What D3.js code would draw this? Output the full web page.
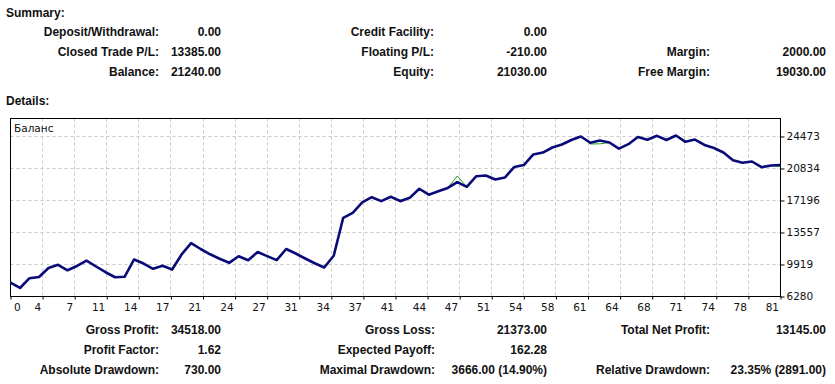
<!DOCTYPE html>
<html>
<head>
<meta charset="utf-8">
<script src="https://cdn.jsdelivr.net/npm/d3@7"></script>
<style>
  body { margin: 0; background: #fff; }
  svg text { font-family: "Liberation Sans", Arial, sans-serif; fill: #111; }
  .lbl { font-size: 12px; font-weight: bold; }
  .axis-text { font-family: "DejaVu Sans", sans-serif; font-size: 10.5px; }
</style>
</head>
<body>
<div id="chart"></div>
<script>
'use strict';

// DATA
var tradeLabels = [0, 4, 7, 11, 14, 17, 21, 24, 27, 31, 34, 37, 41, 44, 47, 51, 54, 58, 61, 64, 68, 71, 74, 78, 81];
var balanceTicks = [6280, 9919, 13557, 17196, 20834, 24473];

var balance = [7860, 7250, 8360, 8500, 9520, 9880, 9260, 9750, 10350, 9690,
    9040, 8470, 8520, 10490, 10030, 9430, 9770, 9350, 11060, 12340,
    11680, 11080, 10570, 10110, 10860, 10410, 11340, 10870, 10410, 11680,
    11170, 10600, 10060, 9580, 10910, 15230, 15800, 16970, 17570, 17120,
    17620, 17120, 17500, 18530, 17860, 18250, 18620, 19280, 18750, 19960,
    20040, 19580, 19810, 21010, 21230, 22430, 22650, 23220, 23560, 24080,
    24470, 23760, 24020, 23790, 23090, 23600, 24420, 24100, 24550, 24080,
    24590, 23870, 24130, 23510, 23170, 22650, 21780, 21480, 21630, 20980,
    21180, 21240];

var equity = [7860, 7250, 8360, 8500, 9520, 9880, 9260, 9750, 10350, 9690,
    9040, 8470, 8440, 10490, 10030, 9380, 9770, 9350, 11060, 12340,
    11680, 11080, 10570, 10110, 10860, 10410, 11340, 10870, 10410, 11680,
    11170, 10600, 10060, 9580, 10910, 15230, 15800, 16970, 17570, 17120,
    17620, 17250, 17500, 18530, 17860, 18250, 18620, 19980, 18750, 19960,
    20040, 19580, 19810, 21010, 21230, 22430, 22650, 23220, 23560, 24080,
    24470, 23620, 23640, 23790, 23090, 23600, 24420, 24100, 24550, 24080,
    24590, 23870, 24130, 23510, 23170, 22650, 21780, 21480, 21630, 20980,
    21180, 21030];

var summaryLeft = [['Deposit/Withdrawal:', '0.00'], ['Closed Trade P/L:', '13385.00'], ['Balance:', '21240.00']];
var summaryMid = [['Credit Facility:', '0.00'], ['Floating P/L:', '-210.00'], ['Equity:', '21030.00']];
var summaryRight = [['', ''], ['Margin:', '2000.00'], ['Free Margin:', '19030.00']];

var detailsLeft = [['Gross Profit:', '34518.00'], ['Profit Factor:', '1.62'], ['Absolute Drawdown:', '730.00']];
var detailsMid = [['Gross Loss:', '21373.00'], ['Expected Payoff:', '162.28'], ['Maximal Drawdown:', '3666.00 (14.90%)']];
var detailsRight = [['Total Net Profit:', '13145.00'], ['', ''], ['Relative Drawdown:', '23.35% (2891.00)']];

// STAGE
var stage = { width: 835, height: 384 };
var plot = { left: 10.5, right: 780.5, top: 118.5, bottom: 296.5 };

var svg = d3.select('#chart')
    .append('svg')
    .attr('width', stage.width)
    .attr('height', stage.height);

svg.append('rect')
    .attr('width', stage.width)
    .attr('height', stage.height)
    .attr('fill', '#fff');

// TEXT BLOCKS
var drawBlock = function(rows, labelX, valueX, topY) {
    var g = svg.append('g');
    rows.forEach(function(row, i) {
        var y = topY + i * 20;
        g.append('text').attr('class', 'lbl')
            .attr('x', labelX).attr('y', y)
            .attr('text-anchor', 'end')
            .text(row[0]);
        g.append('text').attr('class', 'lbl')
            .attr('x', valueX).attr('y', y)
            .attr('text-anchor', 'end')
            .text(row[1]);
    });
};

svg.append('text').attr('class', 'lbl').attr('x', 6).attr('y', 17).text('Summary:');
drawBlock(summaryLeft, 159, 221, 36);
drawBlock(summaryMid, 434, 547, 36);
drawBlock(summaryRight, 710, 826, 36);

svg.append('text').attr('class', 'lbl').attr('x', 6).attr('y', 105).text('Details:');
drawBlock(detailsLeft, 159, 221, 334);
drawBlock(detailsMid, 435, 547, 334);
drawBlock(detailsRight, 710, 826, 334);

// SCALES
var x = d3.scaleLinear()
    .domain([0, 81])
    .range([plot.left, plot.right]);

var yTop = 6280 + (24473 - 6280) * (plot.bottom - plot.top) / 160;
var y = d3.scaleLinear()
    .domain([6280, yTop])
    .range([plot.bottom, plot.top]);

var xTickVals = tradeLabels.map(function(d, i) { return i * 81 / 24; });
var crisp = function(v) { return Math.round(v - 0.5) + 0.5; };

// GRID
var grid = svg.append('g')
    .attr('stroke', '#c8c8c8')
    .attr('stroke-dasharray', '3,3');

grid.selectAll('line.v')
    .data(xTickVals.slice(1, -1)).enter()
    .append('line')
    .attr('x1', function(d) { return crisp(x(d)); })
    .attr('x2', function(d) { return crisp(x(d)); })
    .attr('y1', plot.top)
    .attr('y2', plot.bottom);

grid.selectAll('line.h')
    .data(balanceTicks.slice(1)).enter()
    .append('line')
    .attr('x1', plot.left)
    .attr('x2', plot.right)
    .attr('y1', function(d) { return crisp(y(d)); })
    .attr('y2', function(d) { return crisp(y(d)); });

// BORDER
svg.append('rect')
    .attr('x', plot.left)
    .attr('y', plot.top)
    .attr('width', plot.right - plot.left)
    .attr('height', plot.bottom - plot.top)
    .attr('fill', 'none')
    .attr('stroke', '#000');

svg.append('text')
    .attr('x', 14)
    .attr('y', 132)
    .style('font-family', '"DejaVu Sans", sans-serif')
    .style('font-size', '10.5px')
    .text('Баланс');

// AXES
var xAxis = d3.axisBottom(x)
    .tickValues(xTickVals)
    .tickSize(3)
    .tickFormat(function(d, i) { return tradeLabels[i]; });

var xg = svg.append('g')
    .attr('transform', 'translate(0,' + plot.bottom + ')')
    .call(xAxis);
xg.select('.domain').remove();
xg.selectAll('.tick line').attr('stroke', '#000');
xg.selectAll('.tick text')
    .attr('class', 'axis-text')
    .attr('fill', '#111')
    .attr('y', 14)
    .attr('dy', 0)
    .attr('text-anchor', function(d, i) { return i === 0 ? 'start' : 'end'; })
    .attr('x', function(d, i) { return i === 0 ? 3 : -2; });

var yAxis = d3.axisRight(y)
    .tickValues(balanceTicks)
    .tickSize(4)
    .tickFormat(function(d) { return d; });

var yg = svg.append('g')
    .attr('transform', 'translate(' + plot.right + ',0)')
    .call(yAxis);
yg.select('.domain').remove();
yg.selectAll('.tick line').attr('stroke', '#000');
yg.selectAll('.tick text')
    .attr('class', 'axis-text')
    .attr('fill', '#111')
    .attr('x', 6);

// LINES
var line = d3.line()
    .x(function(d, i) { return x(i); })
    .y(function(d) { return y(d); });

svg.append('path')
    .datum(equity)
    .attr('fill', 'none')
    .attr('stroke', '#1f9e1f')
    .attr('stroke-width', 1)
    .attr('d', line);

svg.append('path')
    .datum(balance)
    .attr('fill', 'none')
    .attr('stroke', '#0a0a78')
    .attr('stroke-width', 2.6)
    .attr('stroke-linejoin', 'round')
    .attr('d', line);
</script>
</body>
</html>
